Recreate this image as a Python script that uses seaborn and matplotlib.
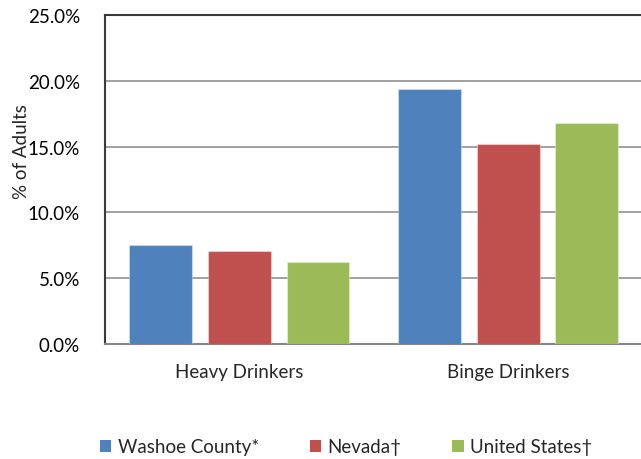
import matplotlib
matplotlib.use('Agg')
import matplotlib.pyplot as plt
from matplotlib.patches import Patch
from matplotlib.ticker import PercentFormatter
import pandas as pd
import seaborn as sns

categories = ['Heavy Drinkers', 'Binge Drinkers']
groups = ['Washoe County*', 'Nevada\u2020', 'United States\u2020']
washoe = [7.5, 19.4]
nevada = [7.1, 15.2]
usa = [6.2, 16.8]
colors = ['#4F81BD', '#C0504D', '#9BBB59']

df = pd.DataFrame({
    'category': categories * 3,
    'group': [g for g in groups for _ in categories],
    'value': washoe + nevada + usa,
})

sns.set_style('white')
plt.rcParams['font.family'] = ['Lato', 'DejaVu Sans']

fig = plt.figure(figsize=(6.41, 4.60), dpi=100)
# right edge of the plot area is clipped in the reference
ax = fig.add_axes([105/641, (460-345)/460, 537.5/641, 329/460])

sns.barplot(data=df, x='category', y='value', hue='group', hue_order=groups,
            palette=colors, width=0.877, gap=0.2, saturation=1, ax=ax,
            legend=False, zorder=3)
for p in ax.patches:
    p.set_edgecolor((1, 1, 1, 0.35))
    p.set_linewidth(0.8)

ax.set_ylim(0, 25)
ax.set_xlim(-0.5, 1.5)
ax.set_yticks([0, 5, 10, 15, 20, 25])
ax.yaxis.set_major_formatter(PercentFormatter(decimals=1))
ax.grid(axis='y', color='#868686', linewidth=1.1, zorder=0)
ax.tick_params(axis='y', labelsize=13.5, length=0, pad=18, colors='#000000')
ax.tick_params(axis='x', labelsize=13.5, length=0, pad=14)
ax.set_xlabel('')
ax.set_ylabel('% of Adults', fontsize=13.5)
ax.yaxis.set_label_coords(-0.14, 0.587)

for s in ['left', 'top']:
    ax.spines[s].set_color('#3a3a3a')
    ax.spines[s].set_linewidth(1.5)
ax.spines['bottom'].set_color('#868686')
ax.spines['bottom'].set_linewidth(1.5)
ax.spines['right'].set_visible(False)

handles = [Patch(facecolor=c, edgecolor='none') for c in colors]
fig.legend(handles, groups, loc='center left', bbox_to_anchor=(100/641, 1 - 448/460),
           ncol=3, frameon=False, fontsize=13.5, handlelength=0.6, handleheight=0.6,
           handletextpad=0.35, columnspacing=2.7, borderaxespad=0, borderpad=0)

fig.savefig('out.png', dpi=100)
